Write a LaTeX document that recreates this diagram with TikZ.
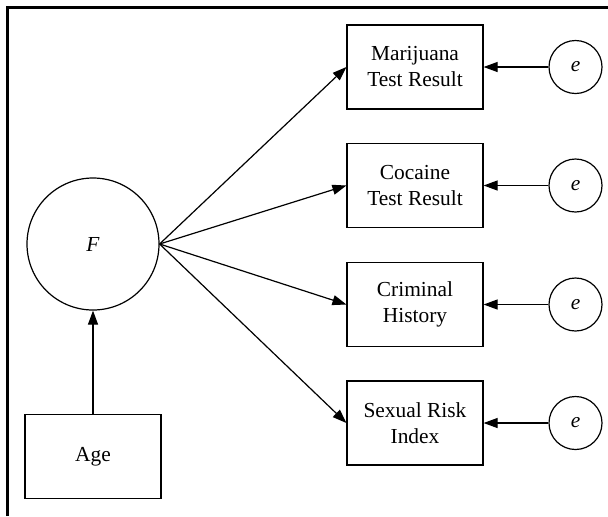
\documentclass[tikz,border=0pt]{standalone}
\usepackage{fontspec}
\setmainfont{Liberation Serif}
\usepackage{tikz}
\usetikzlibrary{arrows.meta}

\begin{document}
\begin{tikzpicture}[x=0.5pt,y=-0.5pt,
  every node/.style={font=\fontsize{10.7}{13}\selectfont},
  varbox/.style={draw,line width=0.6pt,minimum width=68pt,minimum height=42pt,align=center,inner sep=0pt},
  latent/.style={draw,circle,line width=0.6pt,minimum size=66pt,inner sep=0pt},
  errc/.style={draw,circle,line width=0.6pt,minimum size=26.5pt,inner sep=0pt},
  path/.style={line width=0.6pt,-{Triangle[length=7pt,width=5pt]}}]
\useasboundingbox (0,0) rectangle (608,516);
\draw[line width=1.5pt] (7,516) -- (7,7) -- (608,7);
\node[latent] (f) at (93,244) {\textit{F}};
\node[varbox] (age) at (93,456.5) {Age};
\node[varbox] (mj) at (415,67) {Marijuana\\Test Result};
\node[varbox] (coc) at (415,185.5) {Cocaine\\Test Result};
\node[varbox] (crim) at (415,304.5) {Criminal\\History};
\node[varbox] (sex) at (415,423) {Sexual Risk\\Index};
\node[errc] (e1) at (575.5,67) {\textit{e}};
\node[errc] (e2) at (575.5,185.5) {\textit{e}};
\node[errc] (e3) at (575.5,304.5) {\textit{e}};
\node[errc] (e4) at (575.5,423) {\textit{e}};
\draw[path] (age) -- (f);
\draw[path] (f.east) -- (mj.west);
\draw[path] (f.east) -- (coc.west);
\draw[path] (f.east) -- (crim.west);
\draw[path] (f.east) -- (sex.west);
\draw[path] (e1) -- (mj);
\draw[path] (e2) -- (coc);
\draw[path] (e3) -- (crim);
\draw[path] (e4) -- (sex);
\end{tikzpicture}
\end{document}
